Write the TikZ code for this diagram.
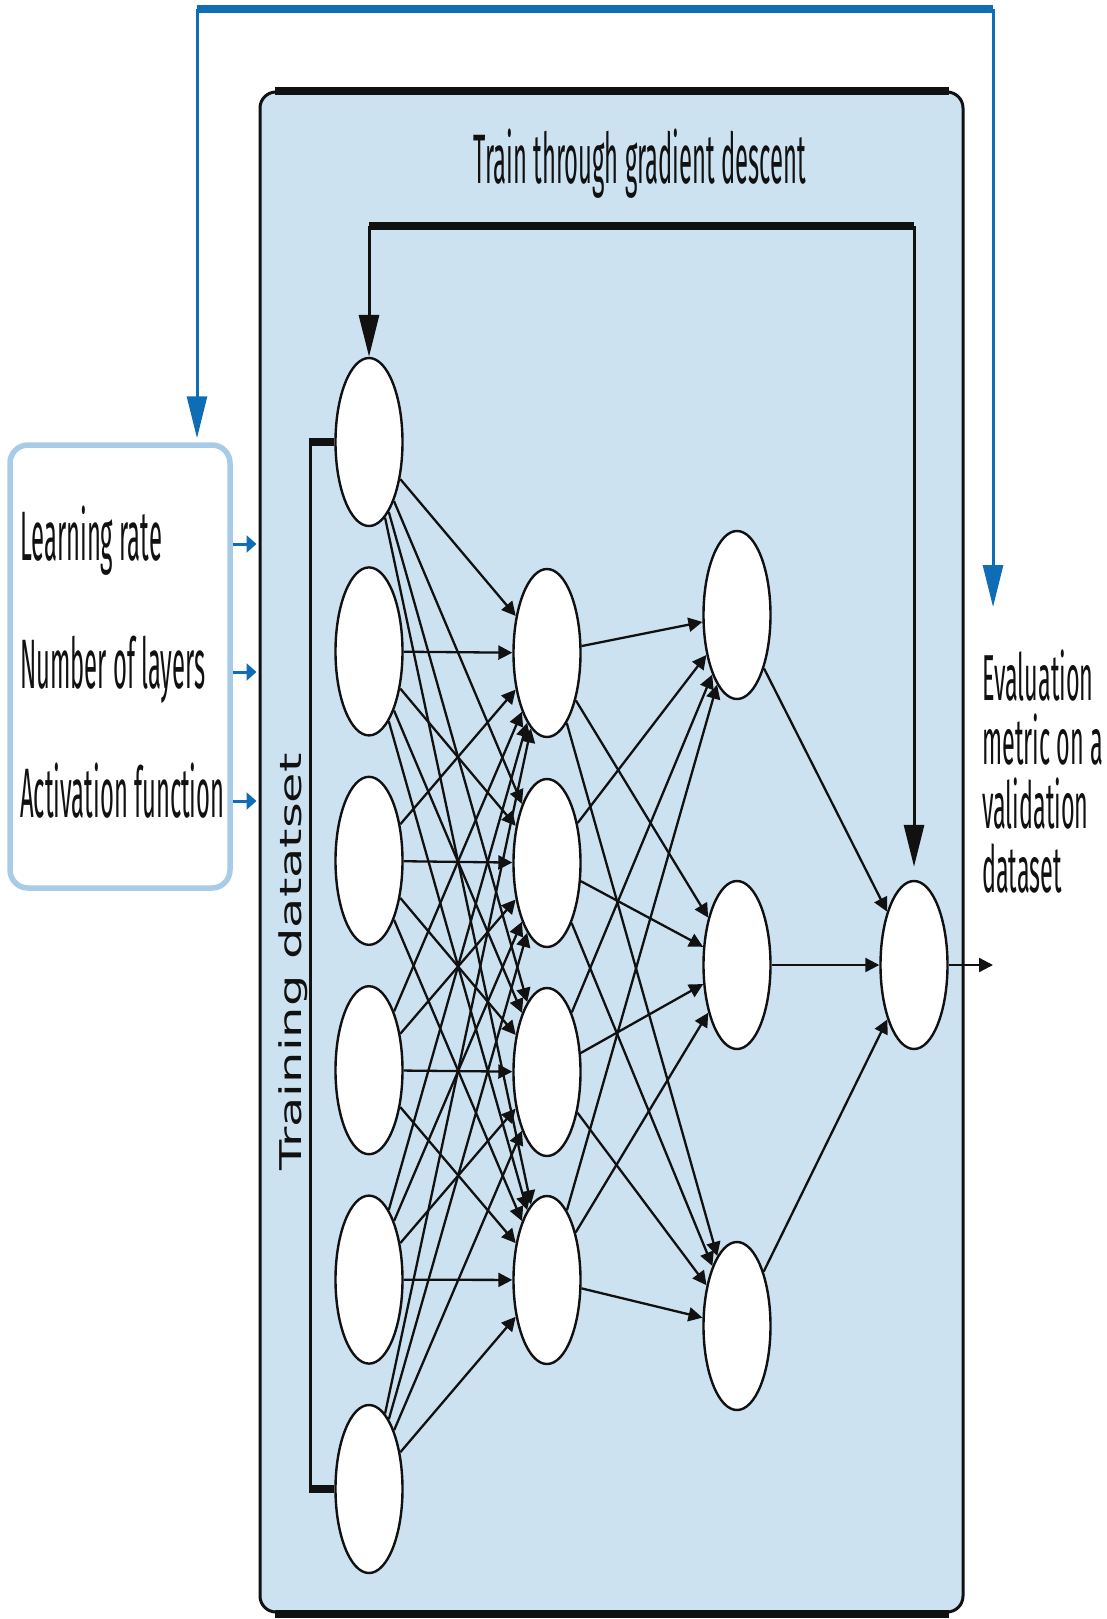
\documentclass[tikz,border=0pt]{standalone}
\usepackage{fontspec}
\usetikzlibrary{arrows.meta,calc,positioning,shapes.geometric}
\newfontfamily\labelfont[FakeStretch=0.34]{Fira Sans}
\newfontfamily\evalfont[FakeStretch=0.36]{Fira Sans}
\newfontfamily\datafont[FakeStretch=1.65]{DejaVu Sans}
\definecolor{ink}{HTML}{111111}
\definecolor{panelfill}{HTML}{CCE2F0}
\definecolor{loopblue}{HTML}{0F6DB5}
\definecolor{hyperline}{HTML}{A8CCE7}

\begin{document}
\begin{tikzpicture}[
  x=1pt, y=-1pt,
  text=ink,
  >={Triangle[length=14pt,width=14pt]},
  neuron/.style={
    ellipse,
    draw=ink,
    fill=white,
    line width=2.4pt,
    minimum width=67pt,
    minimum height=168pt,
    inner sep=0pt
  },
  link/.style={->, draw=ink, line width=2.3pt},
  panel/.style={
    draw=ink,
    fill=panelfill,
    line width=3pt,
    rounded corners=16pt,
    minimum width=703pt,
    minimum height=1520pt,
    inner sep=0pt
  },
  hyperbox/.style={
    draw=hyperline,
    fill=white,
    line width=5.5pt,
    rounded corners=18pt,
    minimum width=220pt,
    minimum height=443pt,
    inner sep=0pt
  },
  caption/.style={font=\labelfont\fontsize{70}{63}\selectfont, inner sep=0pt},
  tuning/.style={draw=loopblue, line width=3pt},
  train/.style={draw=ink, line width=3pt},
  bigtip/.style={-{Triangle[length=42pt,width=20pt]}}
]
\useasboundingbox (0,0) rectangle (1107,1619);

% Containers
\node[panel] (panel) at (611.5,852) {};
\draw[train, line width=8pt] ([xshift=16pt]panel.north west) -- ([xshift=-16pt]panel.north east);
\draw[train, line width=8pt] ([xshift=16pt]panel.south west) -- ([xshift=-16pt]panel.south east);
\node[hyperbox] (hyper) at (120,666.5) {};

% Network layers
\foreach \i in {1,...,6}
  \node[neuron] (in\i) at (369,{442+209.4*(\i-1)}) {};
\foreach \i/\y in {1/653,2/863,3/1072,4/1280}
  \node[neuron] (hid\i) at (547,\y) {};
\foreach \i/\y in {1/615,2/965,3/1326}
  \node[neuron] (deep\i) at (737,\y) {};
\node[neuron] (out) at (914,965) {};

% Fully connected links
\foreach \i in {1,...,6}
  \foreach \j in {1,...,4}
    \draw[link] (in\i) -- (hid\j);
\foreach \i in {1,...,4}
  \foreach \j in {1,...,3}
    \draw[link] (hid\i) -- (deep\j);
\foreach \i in {1,...,3}
  \draw[link] (deep\i) -- (out);
\coordinate (result) at (993,965);
\draw[link] (out) -- (result);

% Gradient descent loop
\coordinate (gdleft) at (in1.north |- 0,226);
\coordinate (gdright) at (out.north |- 0,226);
\draw[train, line width=8pt] (gdleft) -- (gdright);
\draw[train, bigtip] (gdleft) -- (in1.north);
\draw[train, bigtip, shorten >=13pt] (gdright) -- (out.north);

% Training data bracket
\draw[train] ([xshift=-24pt]in1.west) -- ([xshift=-24pt]in6.west);
\draw[train, line width=8pt] (in1.west) -- ++(-25.5,0);
\draw[train, line width=8pt] (in6.west) -- ++(-25.5,0);
\node[font=\datafont\fontsize{30}{36}\selectfont, rotate=90, inner sep=0pt] (trainset) at (293,962) {Training datatset};

% Labels
\node[caption, anchor=base] (gdtitle) at (640,183) {Train through gradient descent};
\node[caption, anchor=base west] (lr) at (20,560) {Learning rate};
\node[caption, anchor=base west] (nl) at (20,688) {Number of layers};
\node[caption, anchor=base west] (af) at (20,817) {Activation function};
\node[caption, font=\evalfont\fontsize{65}{64}\selectfont, anchor=north west, align=left] (eval) at (982,650) {Evaluation\\metric on a\\validation\\dataset};

% Hyperparameters feed the panel
\foreach \lbl in {lr,nl,af}
  \draw[tuning, -{Triangle[length=10pt,width=17pt]}, shorten >=2pt]
    ($(\lbl.base -| hyper.east)+(0,-16)$) -- ($(\lbl.base -| panel.west)+(0,-16)$);

% Tuning loop
\coordinate (hyperin) at ([xshift=77pt]hyper.north);
\coordinate (evalin) at (993,607);
\coordinate (looptop) at (evalin |- 0,9);
\draw[tuning, line width=8pt] (hyperin |- looptop) -- (looptop);
\draw[tuning, bigtip, shorten >=4pt] (hyperin |- looptop) -- (hyperin);
\draw[tuning, bigtip] (looptop) -- (evalin);

\end{tikzpicture}
\end{document}
